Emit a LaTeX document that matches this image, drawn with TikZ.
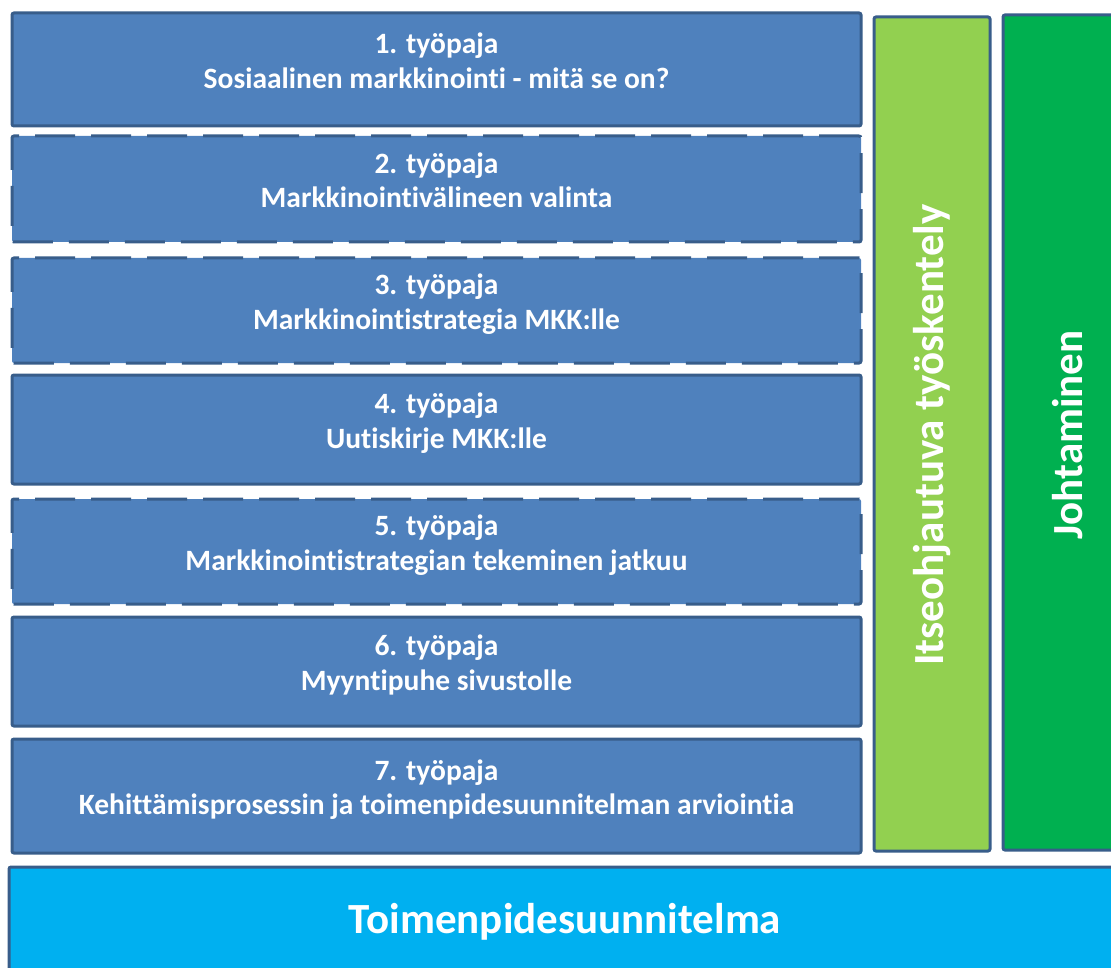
\documentclass[tikz,border=0pt]{standalone}
\usepackage{fontspec}
\setmainfont[Ligatures=NoCommon]{Carlito}
\usepackage{xcolor}
\definecolor{pajafill}{RGB}{79,129,189}
\definecolor{pajaline}{RGB}{56,93,138}
\definecolor{itsegreen}{RGB}{146,208,80}
\definecolor{johtogreen}{RGB}{0,176,80}
\definecolor{suunnblue}{RGB}{0,176,240}
\tikzset{
  paja/.style={draw=pajaline,fill=pajafill,line width=3pt,rounded corners=2pt,
    minimum width=849pt,text=white,align=center,text depth=18pt,
    font=\bfseries\fontsize{29.5}{34.5}\selectfont},
  pajadash/.style={paja,dash pattern=on 40pt off 16pt},
  pylvas/.style={draw=pajaline,line width=3pt,rounded corners=2pt},
  pylvasteksti/.style={text=white,font=\bfseries\fontsize{43}{50}\selectfont},
}
\newcommand{\paja}[5]{\node[#1,minimum height=#3pt] (#2) at (436.5,#4) {#5};}

\begin{document}
\begin{tikzpicture}[x=1pt,y=-1pt]
  \useasboundingbox (0,0) rectangle (1111,968);
  % tyopajat
  \paja{paja}{p1}{113}{69.5}{1. työpaja\\Sosiaalinen markkinointi - mitä se on?}
  \paja{pajadash}{p2}{106}{189}{2. työpaja\\Markkinointivälineen valinta}
  \paja{pajadash}{p3}{105}{310.5}{3. työpaja\\Markkinointistrategia MKK:lle}
  \paja{paja}{p4}{109}{429.5}{4. työpaja\\Uutiskirje MKK:lle}
  \paja{pajadash}{p5}{105}{551.5}{5. työpaja\\Markkinointistrategian tekeminen jatkuu}
  \paja{paja}{p6}{109}{671.5}{6. työpaja\\Myyntipuhe sivustolle}
  \paja{paja}{p7}{114}{796}{7. työpaja\\Kehittämisprosessin ja toimenpidesuunnitelman arviointia}
  % pystypalkit
  \node[pylvas,fill=itsegreen,minimum width=116pt,minimum height=834pt] (itse) at (932,434) {};
  \node[pylvasteksti,rotate=90] (itset) at (932,435) {Itseohjautuva työskentely};
  \node[pylvas,fill=johtogreen,minimum width=127pt,minimum height=835pt] (johto) at (1066.5,432.5) {};
  \node[pylvasteksti,rotate=90] (johtot) at (1068,435) {Johtaminen};
  % pohja
  \node[pylvas,fill=suunnblue,minimum width=1121pt,minimum height=123pt] (suunn) at (569.5,928.5) {};
  \node[pylvasteksti] (suunnt) at (565,922) {Toimenpidesuunnitelma};
\end{tikzpicture}
\end{document}
